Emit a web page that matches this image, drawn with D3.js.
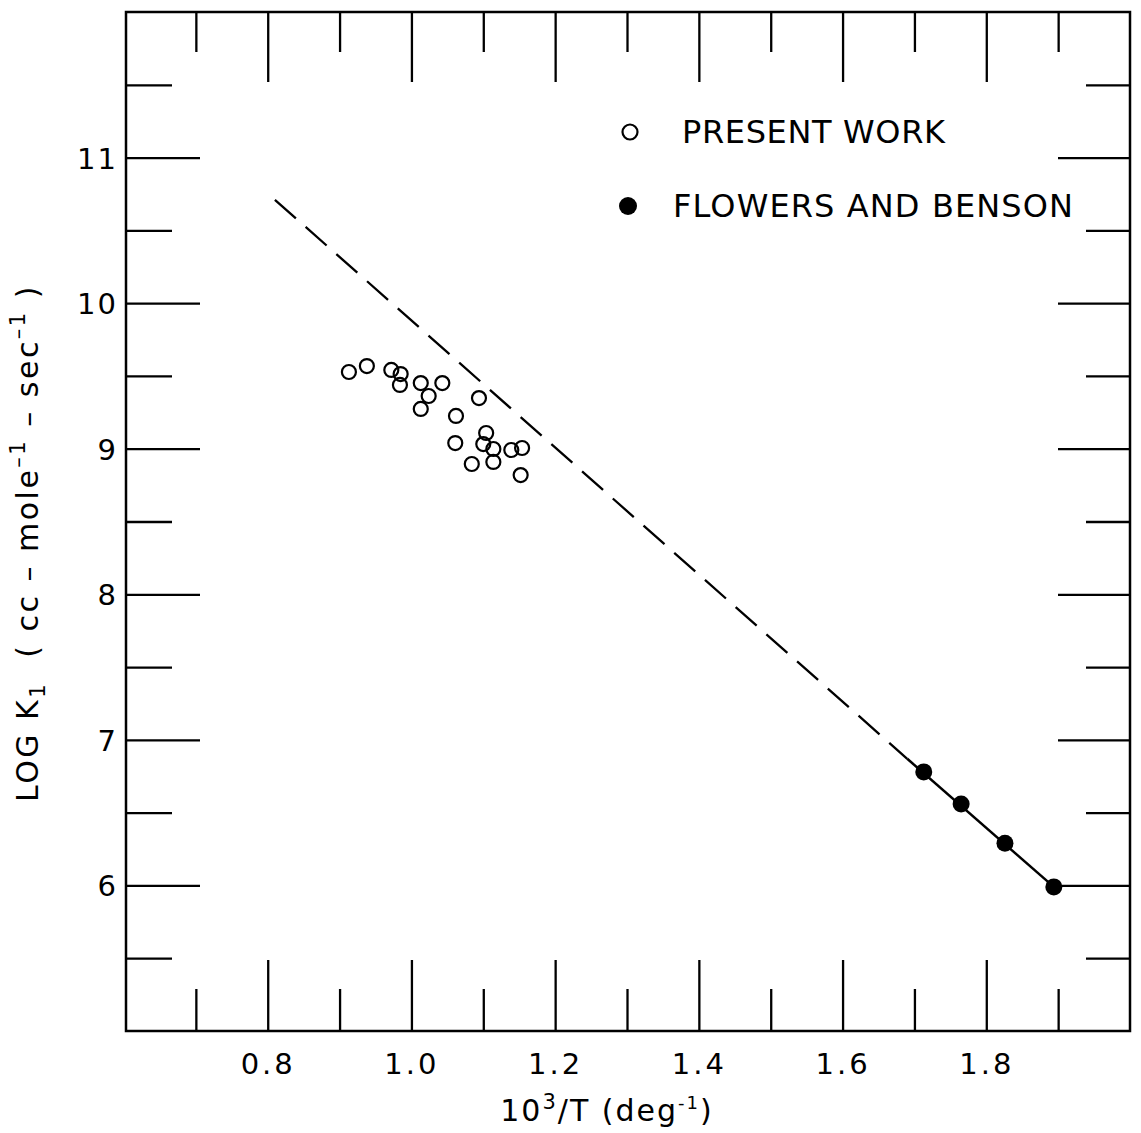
<!DOCTYPE html>
<html>
<head>
<meta charset="utf-8">
<script src="https://cdn.jsdelivr.net/npm/d3@7"></script>
<style>
  html, body { margin: 0; padding: 0; background: #fff; }
  svg { display: block; }
  text { font-family: "DejaVu Sans", "Liberation Sans", sans-serif; fill: #000; }
</style>
</head>
<body>
<svg id="chart" width="1141" height="1133"></svg>
<script>
// ---- data ----
const presentX = [0.913, 0.938, 0.972, 0.985, 0.984, 1.013, 1.043, 1.024, 1.013, 1.094,
                  1.062, 1.061, 1.104, 1.100, 1.114, 1.084, 1.114, 1.139, 1.154, 1.152];
const presentY = [9.527, 9.568, 9.541, 9.513, 9.438, 9.451, 9.451, 9.362, 9.273, 9.348,
                  9.225, 9.039, 9.108, 9.032, 8.998, 8.895, 8.909, 8.991, 9.005, 8.819];
const flowersX = [1.713, 1.765, 1.826, 1.894];
const flowersY = [6.78, 6.56, 6.29, 5.99];
const fitX = [0.81, 1.69, 1.894];
const fitY = [10.71, 6.87, 5.99];
const xMajorTicks = [0.8, 1.0, 1.2, 1.4, 1.6, 1.8];
const xMinorTicks = [0.7, 0.9, 1.1, 1.3, 1.5, 1.7, 1.9];
const xTickLabels = ["0.8", "1.0", "1.2", "1.4", "1.6", "1.8"];
const yMajorTicks = [6, 7, 8, 9, 10, 11];
const yMinorTicks = [5.5, 6.5, 7.5, 8.5, 9.5, 10.5, 11.5];
const yTickLabels = ["6", "7", "8", "9", "10", "11"];
const legendLabels = ["PRESENT WORK", "FLOWERS AND BENSON"];

// ---- layout ----
const L = 126, R = 1130, T = 12, B = 1031;
const svg = d3.select("#chart");
const x = d3.scaleLinear().domain([0.6, 2.0]).range([L - 2, R]);
const y = d3.scaleLinear().domain([5, 12]).range([B, T]);

const axisStyle = g => {
  g.select(".domain").remove();
  g.selectAll(".tick line").attr("stroke", "#000").attr("stroke-width", 2.3);
  g.selectAll(".tick text").attr("font-size", 29).attr("font-family", "DejaVu Sans, sans-serif").attr("fill", "#000");
};

// bottom axis
svg.append("g").attr("transform", `translate(0,${B})`)
  .call(d3.axisBottom(x).tickValues(xMajorTicks).tickSize(-71).tickSizeOuter(0).tickPadding(22)
        .tickFormat((d, i) => xTickLabels[i]))
  .call(axisStyle)
  .call(g => g.selectAll(".tick text").attr("letter-spacing", 3));
svg.append("g").attr("transform", `translate(0,${B})`)
  .call(d3.axisBottom(x).tickValues(xMinorTicks).tickSize(-42).tickSizeOuter(0).tickFormat(""))
  .call(axisStyle);
// top axis
svg.append("g").attr("transform", `translate(0,${T})`)
  .call(d3.axisTop(x).tickValues(xMajorTicks).tickSize(-70).tickSizeOuter(0).tickFormat(""))
  .call(axisStyle);
svg.append("g").attr("transform", `translate(0,${T})`)
  .call(d3.axisTop(x).tickValues(xMinorTicks).tickSize(-40).tickSizeOuter(0).tickFormat(""))
  .call(axisStyle);
// left axis
svg.append("g").attr("transform", `translate(${L},0)`)
  .call(d3.axisLeft(y).tickValues(yMajorTicks).tickSize(-74).tickSizeOuter(0).tickPadding(8)
        .tickFormat((d, i) => yTickLabels[i]))
  .call(axisStyle)
  .call(g => g.selectAll(".tick text").attr("letter-spacing", 2).attr("dy", "0.36em"));
svg.append("g").attr("transform", `translate(${L},0)`)
  .call(d3.axisLeft(y).tickValues(yMinorTicks).tickSize(-46).tickSizeOuter(0).tickFormat(""))
  .call(axisStyle);
// right axis
svg.append("g").attr("transform", `translate(${R},0)`)
  .call(d3.axisRight(y).tickValues(yMajorTicks).tickSize(-72).tickSizeOuter(0).tickFormat(""))
  .call(axisStyle);
svg.append("g").attr("transform", `translate(${R},0)`)
  .call(d3.axisRight(y).tickValues(yMinorTicks).tickSize(-44).tickSizeOuter(0).tickFormat(""))
  .call(axisStyle);

// frame
svg.append("rect").attr("x", L).attr("y", T).attr("width", R - L).attr("height", B - T)
  .attr("fill", "none").attr("stroke", "#000").attr("stroke-width", 2.5);

// fit line: dashed then solid
const line = d3.line().x(d => x(d[0])).y(d => y(d[1]));
const fitPts = fitX.map((v, i) => [v, fitY[i]]);
svg.append("path").attr("d", line(fitPts.slice(0, 2)))
  .attr("fill", "none").attr("stroke", "#000").attr("stroke-width", 2.3)
  .attr("stroke-dasharray", "28,13");
svg.append("path").attr("d", line(fitPts.slice(1)))
  .attr("fill", "none").attr("stroke", "#000").attr("stroke-width", 2.5);

// present work (open circles)
svg.append("g").selectAll("circle").data(presentX.map((v, i) => [v, presentY[i]]))
  .join("circle")
  .attr("cx", d => x(d[0])).attr("cy", d => y(d[1])).attr("r", 7)
  .attr("fill", "none").attr("stroke", "#000").attr("stroke-width", 2.2);

// Flowers and Benson (filled)
svg.append("g").selectAll("circle").data(flowersX.map((v, i) => [v, flowersY[i]]))
  .join("circle")
  .attr("cx", d => x(d[0])).attr("cy", d => y(d[1])).attr("r", 8.5)
  .attr("fill", "#000");

// legend
const leg = svg.append("g");
leg.append("circle").attr("cx", 630).attr("cy", 132).attr("r", 7.5)
  .attr("fill", "none").attr("stroke", "#000").attr("stroke-width", 2.2);
leg.append("text").attr("x", 682).attr("y", 143).attr("font-size", 32)
  .attr("textLength", 263).attr("lengthAdjust", "spacing").text(legendLabels[0]);
leg.append("circle").attr("cx", 628).attr("cy", 206).attr("r", 9).attr("fill", "#000");
leg.append("text").attr("x", 673).attr("y", 217).attr("font-size", 32)
  .attr("textLength", 400).attr("lengthAdjust", "spacing").text(legendLabels[1]);

// x axis title
const xt = svg.append("text").attr("x", 607).attr("y", 1121).attr("text-anchor", "middle")
  .attr("font-size", 30).attr("letter-spacing", 2);
xt.append("tspan").text("10");
xt.append("tspan").attr("dy", -12).attr("font-size", 21).text("3");
xt.append("tspan").attr("dy", 12).text("/T (deg");
xt.append("tspan").attr("dy", -12).attr("font-size", 18).text("-1");
xt.append("tspan").attr("dy", 12).text(")");

// y axis title
const yt = svg.append("text").attr("transform", "translate(38,543) rotate(-90)")
  .attr("text-anchor", "middle").attr("font-size", 30).attr("letter-spacing", 2.5);
yt.append("tspan").text("LOG K");
yt.append("tspan").attr("dy", 7).attr("font-size", 21).text("1");
yt.append("tspan").attr("dy", -7).attr("xml:space", "preserve").text("  ( cc – mole");
yt.append("tspan").attr("dy", -13).attr("font-size", 21).text("–1");
yt.append("tspan").attr("dy", 13).attr("xml:space", "preserve").text(" – sec");
yt.append("tspan").attr("dy", -13).attr("font-size", 21).text("–1");
yt.append("tspan").attr("dy", 13).attr("xml:space", "preserve").text(" )");
</script>
</body>
</html>
